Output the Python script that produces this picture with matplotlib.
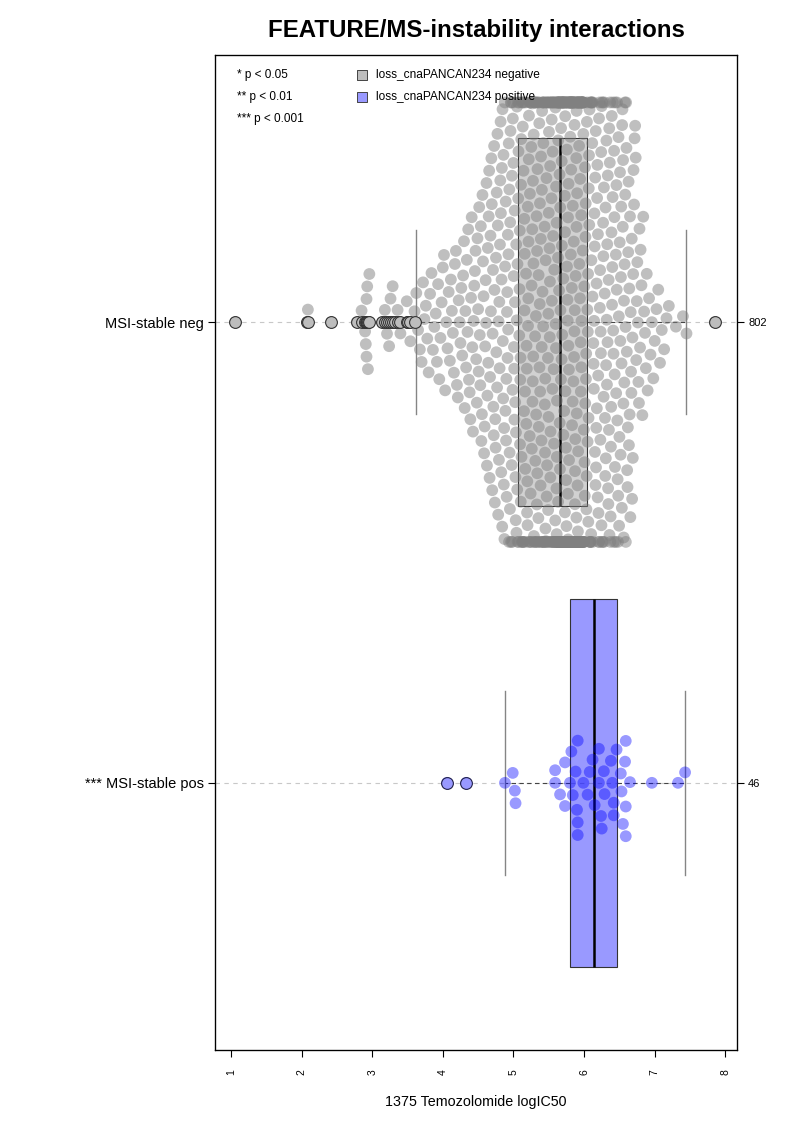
import numpy as np
import matplotlib
matplotlib.use("Agg")
import matplotlib.pyplot as plt

plt.rcParams['font.family'] = ['Liberation Sans', 'DejaVu Sans']

# 1) Values
group_labels = ['*** MSI-stable pos', 'MSI-stable neg']
group_counts = ['46', '802']
legend_labels = ['loss_cnaPANCAN234 negative', 'loss_cnaPANCAN234 positive']
pval_labels = ['* p < 0.05', '** p < 0.01', '*** p < 0.001']
x_ticks = [1, 2, 3, 4, 5, 6, 7, 8]

# positive group: 46 cell lines (logIC50)
pos_values = [4.06, 4.33, 4.88, 4.99, 5.02, 5.03, 5.59, 5.59, 5.66, 5.73,
              5.73, 5.80, 5.82, 5.84, 5.88, 5.90, 5.91, 5.91, 5.91, 5.99,
              6.05, 6.08, 6.12, 6.15, 6.21, 6.21, 6.24, 6.25, 6.28, 6.29,
              6.38, 6.40, 6.42, 6.42, 6.46, 6.52, 6.53, 6.55, 6.58, 6.59,
              6.59, 6.59, 6.65, 6.96, 7.33, 7.43]

# negative group: 802 cell lines, low/high tails read point by point,
# the dense body read as counts per 0.1-wide bin
neg_low_tail = [1.06, 2.08, 2.09, 2.42, 2.78, 2.85, 2.90, 2.91, 2.92, 2.92,
                2.93, 2.94, 2.96, 3.14, 3.18, 3.21, 3.24, 3.26, 3.29, 3.32,
                3.36, 3.40, 3.49, 3.51, 3.54]
neg_high_tail = [7.85]
neg_bin_starts = [3.6, 3.7, 3.8, 3.9, 4.0, 4.1, 4.2, 4.3, 4.4, 4.5, 4.6, 4.7,
                  4.8, 4.9, 5.0, 5.1, 5.2, 5.3, 5.4, 5.5, 5.6, 5.7, 5.8, 5.9,
                  6.0, 6.1, 6.2, 6.3, 6.4, 6.5, 6.6, 6.7, 6.8, 6.9, 7.0, 7.1,
                  7.2, 7.3, 7.4]
neg_bin_counts = [4, 5, 5, 6, 6, 7, 8, 10, 11, 13, 16, 19,
                  22, 24, 28, 28, 30, 32, 34, 36, 55, 55, 57, 54,
                  30, 26, 26, 25, 24, 23, 20, 13, 8, 5, 4, 3,
                  1, 1, 2]

BIN_W = 0.1
neg_body = []
for start, cnt in zip(neg_bin_starts, neg_bin_counts):
    neg_body += [start + k / cnt * BIN_W for k in range(cnt)]
neg_values = np.array(neg_low_tail + neg_body + neg_high_tail)
pos_values = np.array(pos_values)


# R-style boxplot stats (Tukey hinges)
def tukey_stats(vals):
    v = np.sort(vals)
    n = len(v)
    n4 = np.floor((n + 3) / 2) / 2
    idx = np.array([1, n4, (n + 1) / 2, n + 1 - n4, n]) - 1
    fn = 0.5 * (v[np.floor(idx).astype(int)] + v[np.ceil(idx).astype(int)])
    q1, med, q3 = fn[1], fn[2], fn[3]
    lo, hi = q1 - 1.5 * (q3 - q1), q3 + 1.5 * (q3 - q1)
    inside = v[(v >= lo) & (v <= hi)]
    return dict(med=med, q1=q1, q3=q3, whislo=inside.min(), whishi=inside.max(),
                fliers=v[(v < lo) | (v > hi)])


# swarm layout in pixel space (ascending priority, like beeswarm)
def swarm(xs_px, d):
    out = np.zeros(len(xs_px))
    px, py = [], []
    for i in np.argsort(xs_px, kind='stable'):
        x = xs_px[i]
        y = 0.0
        if px:
            ax_ = np.array(px)
            ay_ = np.array(py)
            near = np.abs(ax_ - x) < d
            if near.any():
                nx, ny = ax_[near], ay_[near]
                dy = np.sqrt(d ** 2 - (nx - x) ** 2)
                cands = np.concatenate([[0.0], ny + dy, ny - dy])
                cands = cands[np.argsort(np.abs(cands), kind='stable')]
                dist2 = (nx[None, :] - x) ** 2 + (ny[None, :] - cands[:, None]) ** 2
                ok = np.all(dist2 >= d ** 2 - 1e-6, axis=1)
                y = cands[np.argmax(ok)]
        out[i] = y
        px.append(x)
        py.append(y)
    return out


# 2) Figure
fig = plt.figure(figsize=(7.93, 11.22), dpi=100)
ax = fig.add_axes([215 / 793, 1 - 1050 / 1122, 522 / 793, 995 / 1122])
ax.set_xlim(0.775, 8.165)
ax.set_ylim(0.42, 2.58)

bb = ax.get_window_extent()
x_scale = bb.width / (8.165 - 0.775)
y_scale = bb.height / (2.58 - 0.42)

groups = [
    dict(vals=pos_values, pos=1, pt=(0, 0, 1, 0.4), box=(0, 0, 1, 0.4),
         flier_fc='#9999ff', flier_ec='#22224a'),
    dict(vals=neg_values, pos=2, pt=(0.5, 0.5, 0.5, 0.5), box=(0.5, 0.5, 0.5, 0.36),
         flier_fc='#bdbdbd', flier_ec='#333333'),
]

for g in groups:
    ax.axhline(g['pos'], color='#c8c8c8', ls=(0, (4, 4)), lw=0.8, zorder=0)

SPACING = 12.6   # px between point centres
CORRAL = 0.477   # gutter limit, in y units
for g in groups:
    st = tukey_stats(g['vals'])
    ax.bxp([st], positions=[g['pos']], widths=0.8, capwidths=0.4,
           orientation='horizontal', patch_artist=True, showfliers=False,
           boxprops=dict(facecolor=g['box'], edgecolor='#333333', lw=0.8),
           medianprops=dict(color='black', lw=1.8),
           whiskerprops=dict(color='#444444', lw=0.8, ls=(0, (4, 3))),
           capprops=dict(color='#858585', lw=1.0),
           manage_ticks=False, zorder=2)

    offs = swarm(g['vals'] * x_scale, SPACING) / y_scale
    offs = np.clip(offs, -CORRAL, CORRAL)
    ax.scatter(g['vals'], g['pos'] + offs, s=72, color=g['pt'],
               edgecolors='none', zorder=3)
    ax.scatter(st['fliers'], np.full(len(st['fliers']), g['pos']), s=72,
               facecolor=g['flier_fc'], edgecolor=g['flier_ec'], lw=0.8, zorder=4)

# axes / ticks
ax.set_xticks(x_ticks)
ax.set_xticklabels([str(t) for t in x_ticks])
ax.tick_params(axis='x', rotation=90, labelsize=7.5, length=5, pad=9)
ax.set_yticks([1, 2])
ax.set_yticklabels(group_labels)
ax.tick_params(axis='y', labelsize=10.5, length=5, pad=3)
for sp in ax.spines.values():
    sp.set_linewidth(0.9)

ax2 = ax.twinx()
ax2.set_ylim(ax.get_ylim())
ax2.set_yticks([1, 2])
ax2.set_yticklabels(group_counts)
ax2.tick_params(axis='y', labelsize=8, length=5, pad=3)

# legend
for i, t in enumerate(pval_labels):
    ax.text(0.042, 0.9799 - i * 0.0221, t, transform=ax.transAxes,
            fontsize=8.5, va='center', ha='left')
for i, (lab, fc) in enumerate(zip(legend_labels, ['#bebebe', '#9999ff'])):
    yy = 0.9799 - i * 0.0221
    ax.scatter([0.2816], [yy], marker='s', s=50, facecolor=fc,
               edgecolor='#444444', lw=0.7, transform=ax.transAxes, zorder=5)
    ax.text(0.3084, yy, lab, transform=ax.transAxes, fontsize=8.6,
            va='center', ha='left', zorder=5)

fig.text(476 / 793, 1 - 31 / 1122, 'FEATURE/MS-instability interactions',
         ha='center', va='center', fontsize=17.3, fontweight='bold')
fig.text(476 / 793, 1 - 1102 / 1122, '1375 Temozolomide logIC50',
         ha='center', va='center', fontsize=10.3)

fig.savefig('out.png', dpi=100)
